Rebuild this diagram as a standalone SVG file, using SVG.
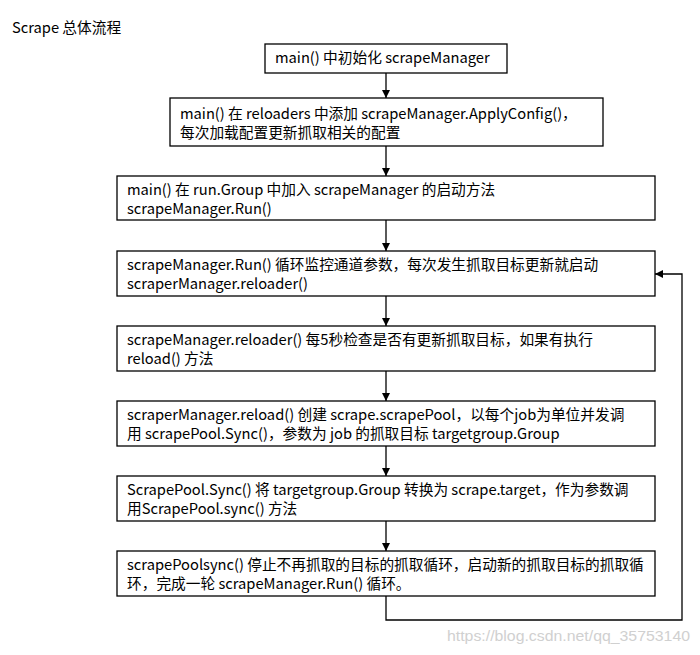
<svg xmlns="http://www.w3.org/2000/svg" width="700" height="655" viewBox="0 0 700 655">
<style>
text{font-family:"Noto Sans CJK SC","Noto Sans",sans-serif;font-size:14.7px;fill:#000}
.box{fill:#fff;stroke:#000;stroke-width:1.3}
.edge{fill:none;stroke:#000;stroke-width:1.3}
.wm{font-family:"Liberation Sans",sans-serif;fill:#d0d0d0;font-size:15px}
</style>
<defs>
<marker id="arr" viewBox="0 0 10 10" refX="10" refY="5" markerWidth="9" markerHeight="8" markerUnits="userSpaceOnUse" orient="auto">
<path d="M0,0 L10,5 L0,10 z" fill="#000"/>
</marker>
</defs>
<rect width="700" height="655" fill="#fff"/>
<text x="12" y="33">Scrape 总体流程</text>
<g id="connectors">
<line class="edge" x1="386" y1="73" x2="386" y2="98" marker-end="url(#arr)"/>
<line class="edge" x1="386" y1="146" x2="386" y2="176" marker-end="url(#arr)"/>
<line class="edge" x1="386" y1="220" x2="386" y2="251" marker-end="url(#arr)"/>
<line class="edge" x1="386" y1="296" x2="386" y2="326" marker-end="url(#arr)"/>
<line class="edge" x1="386" y1="371" x2="386" y2="401" marker-end="url(#arr)"/>
<line class="edge" x1="386" y1="446" x2="386" y2="476" marker-end="url(#arr)"/>
<line class="edge" x1="386" y1="521" x2="386" y2="551" marker-end="url(#arr)"/>
<polyline class="edge" points="386,596 386,620 682,620 682,274 655,274" marker-end="url(#arr)"/>
</g>
<g id="n1"><rect class="box" x="265" y="44" width="242" height="29"/><text x="275" y="63">main() 中初始化 scrapeManager</text></g>
<g id="n2"><rect class="box" x="170" y="98" width="433" height="48"/><text x="180" y="119">main() 在 reloaders 中添加 scrapeManager.ApplyConfig()，</text><text x="180" y="138">每次加载配置更新抓取相关的配置</text></g>
<g id="n3"><rect class="box" x="117" y="176" width="538" height="44"/><text x="127" y="195">main() 在 run.Group 中加入 scrapeManager 的启动方法</text><text x="127" y="214">scrapeManager.Run()</text></g>
<g id="n4"><rect class="box" x="117" y="251" width="538" height="45"/><text x="127" y="270">scrapeManager.Run() 循环监控通道参数，每次发生抓取目标更新就启动</text><text x="127" y="289">scraperManager.reloader()</text></g>
<g id="n5"><rect class="box" x="117" y="326" width="538" height="45"/><text x="127" y="345">scrapeManager.reloader() 每5秒检查是否有更新抓取目标，如果有执行</text><text x="127" y="364">reload() 方法</text></g>
<g id="n6"><rect class="box" x="117" y="401" width="538" height="45"/><text x="127" y="420">scraperManager.reload() 创建 scrape.scrapePool，以每个job为单位并发调</text><text x="127" y="439">用 scrapePool.Sync()，参数为 job 的抓取目标 targetgroup.Group</text></g>
<g id="n7"><rect class="box" x="117" y="476" width="538" height="45"/><text x="127" y="495">ScrapePool.Sync() 将 targetgroup.Group 转换为 scrape.target，作为参数调</text><text x="127" y="514">用ScrapePool.sync() 方法</text></g>
<g id="n8"><rect class="box" x="117" y="551" width="538" height="45"/><text x="127" y="570">scrapePoolsync() 停止不再抓取的目标的抓取循环，启动新的抓取目标的抓取循</text><text x="127" y="589">环，完成一轮 scrapeManager.Run() 循环。</text></g>
<text class="wm" x="447" y="641" textLength="243" lengthAdjust="spacingAndGlyphs">https://blog.csdn.net/qq_35753140</text>
</svg>
